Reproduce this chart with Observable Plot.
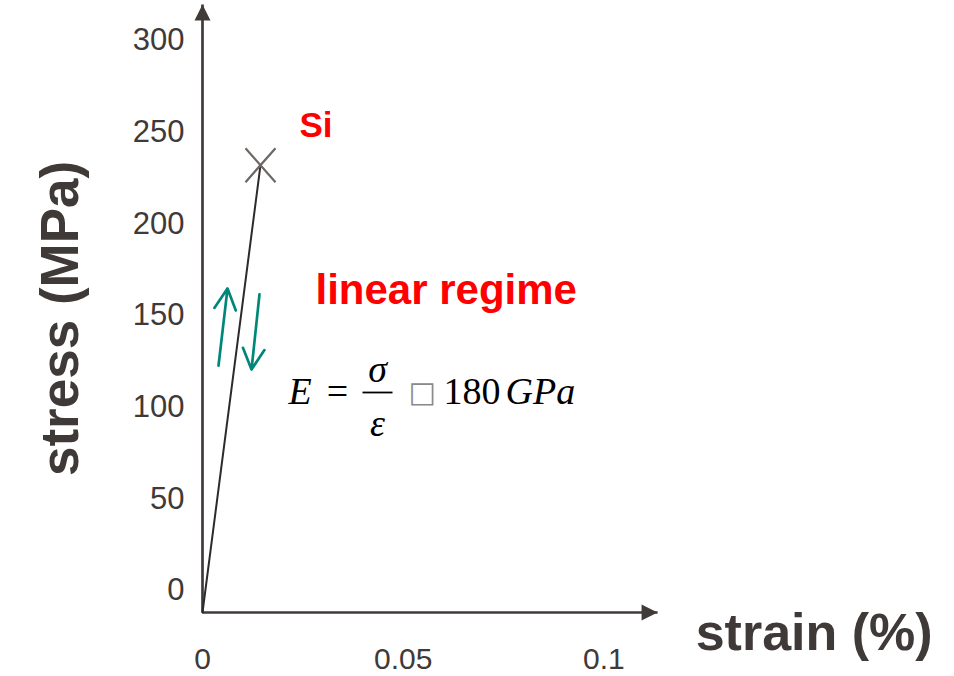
<!DOCTYPE html>
<html><head><meta charset="utf-8">
<script src="https://cdn.jsdelivr.net/npm/d3@7"></script>
<script src="https://cdn.jsdelivr.net/npm/@observablehq/plot@0.6"></script>
<style>body{margin:0;background:#fff;} svg{display:block;}</style>
</head><body><div id="chart"></div>
<script>
// ---- data ----
const strain = [0, 0.01445];          // %
const stress = [0, 244];              // MPa
const fracture = [{strain: 0.01445, stress: 244}];
const yTicks = [0, 50, 100, 150, 200, 250, 300];
const xTicks = [0, 0.05, 0.1];
const xTickLabels = ["0", "0.05", "0.1"];
const xAxisEnd = 0.1134;
const yAxisEnd = 331.6;
const loadArrows = [
  {x1: 0.00399, y1: 134.7, x2: 0.00623, y2: 176.7},
  {x1: 0.0142,  y1: 173.5, x2: 0.01221, y2: 132.5}
];
const labels = [
  {text: "Si", strain: 0.02417, stress: 259.6, size: 35},
  {text: "linear regime", strain: 0.02816, stress: 168.5, size: 42}
];
const eqItalicStart = [
  {text: "E", strain: 0.02143, stress: 114.0},
  {text: "GPa", strain: 0.0755, stress: 114.0}
];
const eqItalicMid = [
  {text: "σ", strain: 0.04361, stress: 126.0},
  {text: "ε", strain: 0.04361, stress: 96.5}
];
const eqEquals = [{text: "=", strain: 0.03364, stress: 114.0}];
const eqNumber = [{text: "180", strain: 0.06005, stress: 114.0}];
const eqBox = [{text: "□", strain: 0.0548, stress: 120.0}];
const fractionBar = [{x1: 0.03987, x2: 0.04735, y: 120.0}];
const xTitle = [{text: "strain (%)", strain: 0.1229, stress: -20.7}];
const yTitle = [{text: "stress (MPa)", strain: -0.0309, stress: 160.4}];

// ---- symbols ----
const headUp = {draw(ctx) { ctx.moveTo(0, 0); ctx.lineTo(8, 16); ctx.lineTo(-8, 16); ctx.closePath(); }};
const cross = {draw(ctx) { ctx.moveTo(-15, -17); ctx.lineTo(15, 17); ctx.moveTo(-15, 17); ctx.lineTo(15, -17); }};

const axisColor = "#403b39";
const textColor = "#3f3a38";
const sans = "Liberation Sans, Arial, Helvetica, sans-serif";
const serif = "Liberation Serif, Times New Roman, serif";

const chart = Plot.plot({
  width: 954, height: 676,
  marginLeft: 202, marginRight: 350.7, marginTop: 62, marginBottom: 64,
  x: {domain: [0, 0.1], axis: null},
  y: {domain: [0, 300], axis: null},
  style: {background: "#fff", overflow: "visible"},
  marks: [
    // axes
    Plot.link([0], {x1: 0, y1: 0, x2: 0, y2: yAxisEnd, stroke: axisColor, strokeWidth: 2.7}),
    Plot.link([0], {x1: 0, y1: 0, x2: xAxisEnd, y2: 0, stroke: axisColor, strokeWidth: 2.7}),
    Plot.dot([0], {x: 0, y: yAxisEnd, symbol: headUp, fill: axisColor, stroke: "none", r: 8}),
    Plot.dot([0], {x: xAxisEnd, y: 0, symbol: headUp, fill: axisColor, stroke: "none", r: 8, rotate: 90}),
    Plot.text(yTicks, {x: 0, y: d => d, text: d => String(d), textAnchor: "end", dx: -18, dy: -22,
      fontSize: 31, fill: textColor, fontFamily: sans}),
    Plot.text(xTicks, {x: d => d, y: 0, text: (d, i) => xTickLabels[i], dy: 47,
      fontSize: 30, fill: textColor, fontFamily: sans}),
    Plot.text(xTitle, {x: "strain", y: "stress", text: "text", textAnchor: "start", lineAnchor: "bottom",
      fontSize: 52, fontWeight: "bold", fill: textColor, fontFamily: sans}),
    Plot.text(yTitle, {x: "strain", y: "stress", text: "text", rotate: -90, lineAnchor: "bottom",
      fontSize: 53, fontWeight: "bold", fill: textColor, fontFamily: sans}),
    // data
    Plot.line(strain.map((s, i) => ({s, v: stress[i]})), {x: "s", y: "v", stroke: "#2b2b2b", strokeWidth: 2}),
    Plot.dot(fracture, {x: "strain", y: "stress", symbol: cross, fill: "none", stroke: "#6e6764", strokeWidth: 2.2, r: 15}),
    Plot.arrow(loadArrows, {x1: "x1", y1: "y1", x2: "x2", y2: "y2", stroke: "#00877a", strokeWidth: 2.7,
      headLength: 13, headAngle: 55}),
    // annotations
    Plot.text(labels, {x: "strain", y: "stress", text: "text", textAnchor: "start", lineAnchor: "bottom",
      fontSize: d => d.size, fontWeight: "bold", fill: "#ff0000", fontFamily: sans}),
    Plot.text(eqItalicStart, {x: "strain", y: "stress", text: "text", textAnchor: "start", lineAnchor: "bottom",
      fontSize: 38, fontStyle: "italic", fill: "#000", fontFamily: serif}),
    Plot.text(eqItalicMid, {x: "strain", y: "stress", text: "text", textAnchor: "middle", lineAnchor: "bottom",
      fontSize: 38, fontStyle: "italic", fill: "#000", fontFamily: serif}),
    Plot.text(eqEquals, {x: "strain", y: "stress", text: "text", textAnchor: "middle", lineAnchor: "bottom",
      fontSize: 38, fill: "#000", fontFamily: serif}),
    Plot.text(eqNumber, {x: "strain", y: "stress", text: "text", textAnchor: "start", lineAnchor: "bottom",
      fontSize: 38, fill: "#000", fontFamily: serif}),
    Plot.text(eqBox, {x: "strain", y: "stress", text: "text", fontSize: 29, fill: "#8a8a8a", fontFamily: "DejaVu Sans"}),
    Plot.link(fractionBar, {x1: "x1", x2: "x2", y1: "y", y2: "y", stroke: "#000", strokeWidth: 1.8})
  ]
});
document.getElementById("chart").appendChild(chart);
</script>
</body></html>
